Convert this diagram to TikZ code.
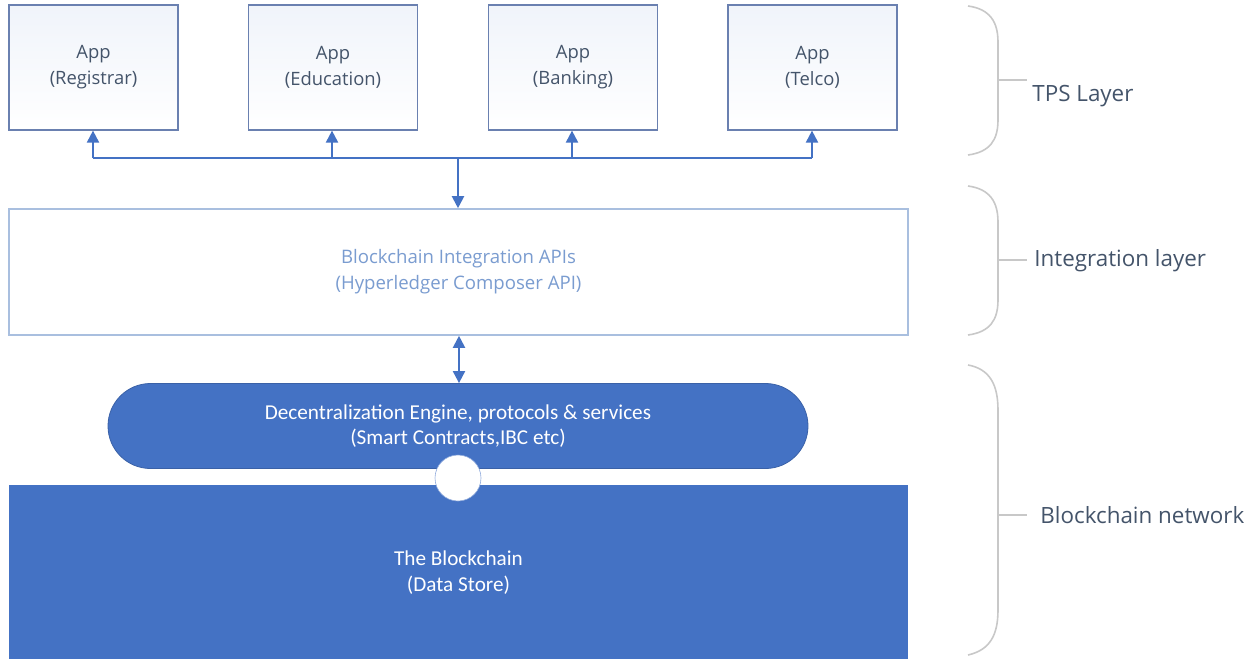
\documentclass[tikz,border=0pt]{standalone}
\usepackage{fontspec}
\setmainfont{Open Sans}
\newfontfamily\calib{Carlito}
\usetikzlibrary{arrows.meta,shapes.misc}
\definecolor{cblue}{HTML}{4472C4}
\definecolor{cframe}{HTML}{6A80B0}
\definecolor{ctext}{HTML}{44546A}
\definecolor{clight}{HTML}{7A9CD0}
\definecolor{cbrace}{HTML}{C8C8C8}
\definecolor{cinteg}{HTML}{A9BFDF}
\begin{document}
\begin{tikzpicture}[x=0.5pt,y=-0.5pt,
  appbox/.style={draw=cframe,line width=0.6pt,top color=cblue!8,bottom color=white,
    minimum width=84.5pt,minimum height=62.5pt,inner sep=0pt,align=center,
    font=\fontsize{9.2}{13}\selectfont,text=ctext},
  conn/.style={draw=cblue,line width=1pt},
  tip/.style={-{Triangle[width=6pt,length=6pt]}},
  bracepath/.style={draw=cbrace,line width=0.8pt},
  layerlabel/.style={anchor=west,text=ctext,font=\fontsize{11.2}{13}\selectfont,inner sep=0pt}]
\useasboundingbox (0,0) rectangle (1250,659);
% apps
\node[appbox] (reg) at (93.5,67.5) {App\\(Registrar)};
\node[appbox] (edu) at (333,67.5) {App\\(Education)};
\node[appbox] (bank) at (573,67.5) {App\\(Banking)};
\node[appbox] (tel) at (812.5,67.5) {App\\(Telco)};
% integration
\node[draw=cinteg,line width=0.8pt,fill=white,minimum width=449.5pt,minimum height=63pt,inner sep=0pt,
  align=center,text=clight,font=\fontsize{9.3}{13}\selectfont] (api) at (458.5,272)
  {Blockchain Integration APIs\\(Hyperledger Composer API)};
% blockchain store
\node[fill=cblue,minimum width=449.5pt,minimum height=88pt,inner sep=0pt,align=center,
  text=white,font=\calib\fontsize{10.6}{13}\selectfont] (store) at (458.5,573)
  {The Blockchain\\(Data Store)};
% engine pill
\node[rounded rectangle,fill=cblue,draw=cblue!85!black,line width=0.4pt,minimum width=350pt,minimum height=42.5pt,inner sep=0pt,
  align=center,text=white,font=\calib\fontsize{10.6}{12.5}\selectfont] (eng) at (458,426)
  {Decentralization Engine, protocols \& services\\(Smart Contracts,IBC etc)};
\node[circle,fill=white,draw=cblue!60,line width=0.3pt,minimum size=23pt,inner sep=0pt] (knob) at (458,478) {};
% connectors
\coordinate (bl) at (93,158);
\coordinate (br) at (812,158);
\coordinate (bm) at (458,158);
\draw[conn] (bl) -- (br);
\draw[conn,tip] (bl) -- (reg.south -| bl);
\draw[conn,tip] (332,158) -- (edu.south -| 332,0);
\draw[conn,tip] (572,158) -- (bank.south -| 572,0);
\draw[conn,tip] (br) -- (tel.south -| br);
\draw[conn,tip] (bm) -- (api.north -| bm);
\draw[conn,{Triangle[width=6pt,length=6pt]}-{Triangle[width=6pt,length=6pt]}] (api.south -| 459,0) -- (eng.north -| 459,0);
% braces
\draw[bracepath] (968,6) .. controls (990,9) and (998,22) .. (998,42) -- (998,120) .. controls (998,140) and (990,152) .. (968,155);
\draw[bracepath] (998,80) -- (1027,80);
\node[layerlabel] (tps) at (1032,96) {TPS Layer};
\draw[bracepath] (968,186) .. controls (990,189) and (998,202) .. (998,222) -- (998,300) .. controls (998,320) and (990,332) .. (968,335);
\draw[bracepath] (998,260) -- (1027,260);
\node[layerlabel] (intl) at (1034,261) {Integration layer};
\draw[bracepath] (968,365) .. controls (990,369) and (998,385) .. (998,410) -- (998,610) .. controls (998,635) and (990,650) .. (968,655);
\draw[bracepath] (998,515) -- (1027,515);
\node[layerlabel] (bcn) at (1040,515) {Blockchain network};
\end{tikzpicture}
\end{document}
